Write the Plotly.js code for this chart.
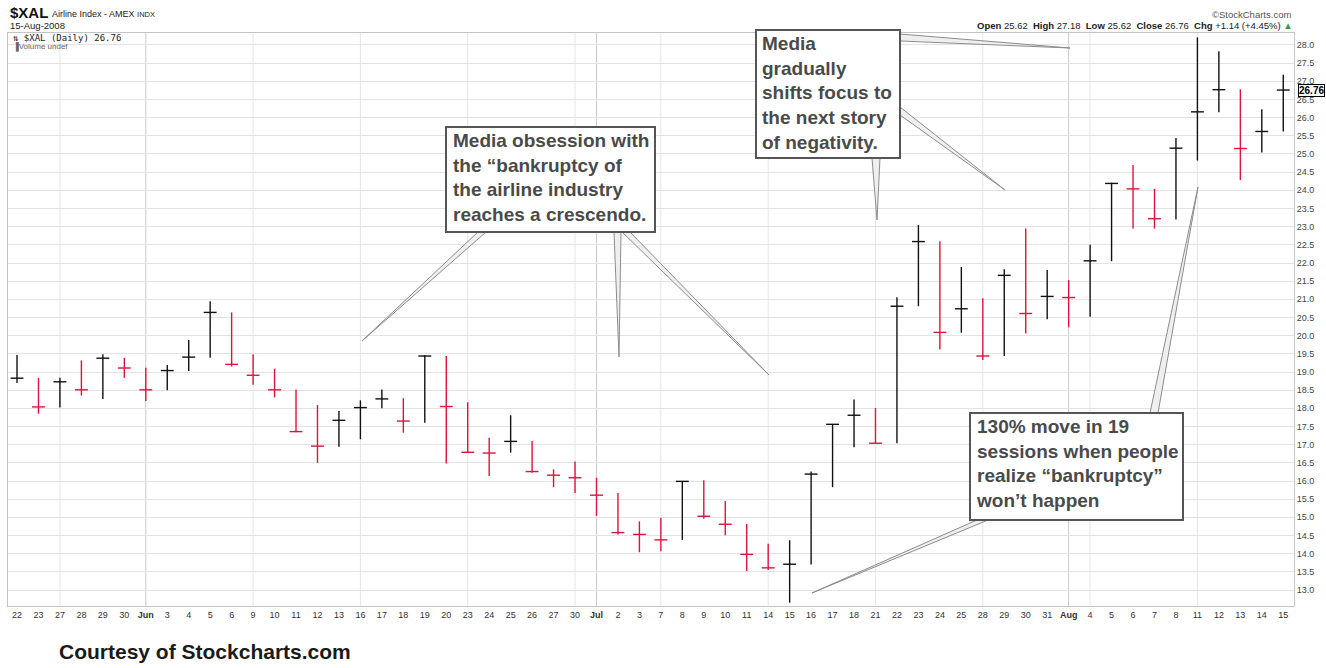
<!DOCTYPE html>
<html><head><meta charset="utf-8">
<script src="https://cdn.plot.ly/plotly-3.0.1.min.js"></script>
<style>html,body{margin:0;padding:0;background:#fff}#chart{width:1326px;height:668px}</style>
</head><body><div id="chart"></div>
<script>
// ---- data ----
const dates = ['2008-05-22','2008-05-23','2008-05-27','2008-05-28','2008-05-29','2008-05-30',
 '2008-06-02','2008-06-03','2008-06-04','2008-06-05','2008-06-06','2008-06-09','2008-06-10','2008-06-11','2008-06-12','2008-06-13',
 '2008-06-16','2008-06-17','2008-06-18','2008-06-19','2008-06-20','2008-06-23','2008-06-24','2008-06-25','2008-06-26','2008-06-27','2008-06-30',
 '2008-07-01','2008-07-02','2008-07-03','2008-07-07','2008-07-08','2008-07-09','2008-07-10','2008-07-11','2008-07-14','2008-07-15','2008-07-16',
 '2008-07-17','2008-07-18','2008-07-21','2008-07-22','2008-07-23','2008-07-24','2008-07-25','2008-07-28','2008-07-29','2008-07-30','2008-07-31',
 '2008-08-01','2008-08-04','2008-08-05','2008-08-06','2008-08-07','2008-08-08','2008-08-11','2008-08-12','2008-08-13','2008-08-14','2008-08-15'];
const tickLabels = ['22','23','27','28','29','30',
 '<b>Jun</b>','3','4','5','6','9','10','11','12','13',
 '16','17','18','19','20','23','24','25','26','27','30',
 '<b>Jul</b>','2','3','7','8','9','10','11','14','15','16',
 '17','18','21','22','23','24','25','28','29','30','31',
 '<b>Aug</b>','4','5','6','7','8','11','12','13','14','15'];
const highs = [19.47,18.84,18.84,19.32,19.49,19.39,
 19.12,19.19,19.88,20.95,20.64,19.49,19.09,18.52,18.09,17.93,
 18.22,18.52,18.28,19.46,19.44,18.17,17.19,17.81,17.10,16.32,16.54,
 16.09,15.67,14.89,14.99,16.00,16.02,15.45,14.82,14.27,14.37,16.26,
 17.57,18.24,18.01,21.06,23.05,22.60,21.89,21.03,21.83,22.95,21.81,
 21.53,22.50,24.21,24.70,24.04,25.44,28.21,27.83,26.78,26.23,27.18];
const lows = [18.70,17.85,18.02,18.35,18.26,18.84,
 18.20,18.50,19.03,19.39,19.15,18.65,18.30,17.34,16.50,16.94,
 17.15,18.00,17.33,17.60,16.48,16.77,16.14,16.78,16.23,15.83,15.67,
 15.04,14.53,14.04,14.07,14.38,14.96,14.51,13.52,13.55,12.65,13.70,
 15.83,16.93,17.03,17.04,20.81,19.62,20.08,19.33,19.44,20.06,20.45,
 20.23,20.52,22.05,22.95,22.95,23.20,24.82,26.15,24.28,25.04,25.62];
const closes = [18.83,18.04,18.73,18.51,19.38,19.11,
 18.51,19.04,19.41,20.64,19.21,18.91,18.51,17.36,16.96,17.67,
 18.02,18.26,17.65,19.44,18.05,16.79,16.77,17.09,16.26,16.16,16.09,
 15.61,14.58,14.53,14.38,15.99,15.03,14.81,13.98,13.61,13.71,16.19,
 17.56,17.81,17.04,20.81,22.59,20.09,20.74,19.44,21.66,20.61,21.08,
 21.05,22.06,24.19,24.04,23.22,25.16,26.16,26.77,25.15,25.62,26.76];
const lastOpen = 25.62;

// ---- geometry helpers (pixel -> paper) ----
const L=8, R=1294, T=33, B=606;
const px = x => (x-L)/(R-L);
const py = y => (B-y)/(B-T);

// ---- bars: vertical low-high, close tick across ----
const up={x:[],y:[]}, dn={x:[],y:[]};
const half=0.3;
closes.forEach((c,i)=>{
  const t = (i===0 || c>closes[i-1]) ? up : dn;
  t.x.push(i,i,null,i-half,i+half,null);
  t.y.push(lows[i],highs[i],null,c,c,null);
});
const traces = [
  {type:'scatter',mode:'lines',x:up.x,y:up.y,line:{color:'#111111',width:1.4},hoverinfo:'skip',showlegend:false,connectgaps:false},
  {type:'scatter',mode:'lines',x:dn.x,y:dn.y,line:{color:'#dc143c',width:1.4},hoverinfo:'skip',showlegend:false,connectgaps:false}
];

// ---- vertical grid at week starts / month starts ----
const shapes=[];
const dObj = dates.map(d=>new Date(d+'T00:00:00Z'));
for(let i=1;i<dObj.length;i++){
  const monthStart = dObj[i].getUTCMonth()!==dObj[i-1].getUTCMonth();
  const weekStart = dObj[i].getUTCDay()<=dObj[i-1].getUTCDay() || (dObj[i]-dObj[i-1])>=7*864e5;
  if(monthStart||weekStart){
    shapes.push({type:'line',xref:'x',yref:'paper',x0:i,x1:i,y0:0,y1:1,layer:'below',
      line:{color: monthStart?'#c9c9c9':'#e6e6e6',width:1}});
  }
}

// ---- callout wedges ----
const wedges = [
  [[478,232],[486,232],[362,341]],
  [[614,232],[621,232],[619,357]],
  [[622,232],[630,232],[769,375]],
  [[900,34],[900,41],[1070,48]],
  [[900,107],[900,115],[1005,190]],
  [[872,158],[880,158],[877,220]],
  [[977,520],[988,520],[812,593]],
  [[1150,413],[1158,413],[1198,187]]
];
wedges.forEach(w=>{
  const p = w.map(q=>px(q[0]).toFixed(5)+','+py(q[1]).toFixed(5));
  shapes.push({type:'path',xref:'paper',yref:'paper',path:'M'+p[0]+' L'+p[2]+' L'+p[1]+' Z',
    fillcolor:'#efefef',line:{color:'#8c8c8c',width:1}});
});
const boxes = [[446,127,655,232],[756,30,900,158],[970,413,1183,520]];
boxes.forEach(b=>{
  shapes.push({type:'rect',xref:'paper',yref:'paper',x0:px(b[0]),x1:px(b[2]),y0:py(b[1]),y1:py(b[3]),
    fillcolor:'#ffffff',line:{color:'#555555',width:2}});
});

const boxFont = {family:'Liberation Sans, Arial, sans-serif',size:19,color:'#4a4a4a',weight:'bold'};
const n = closes.length;
const chg = closes[n-1]-closes[n-2];
const annotations = [
  {xref:'paper',yref:'paper',x:px(451),y:py(128),xanchor:'left',yanchor:'top',align:'left',showarrow:false,font:boxFont,
   text:'Media obsession with<br>the \u201cbankruptcy of<br>the airline industry<br>reaches a crescendo.'},
  {xref:'paper',yref:'paper',x:px(760),y:py(31),xanchor:'left',yanchor:'top',align:'left',showarrow:false,font:boxFont,
   text:'Media<br>gradually<br>shifts focus to<br>the next story<br>of negativity.'},
  {xref:'paper',yref:'paper',x:px(974),y:py(414),xanchor:'left',yanchor:'top',align:'left',showarrow:false,font:boxFont,
   text:'130% move in 19<br>sessions when people<br>realize \u201cbankruptcy\u201d<br>won\u2019t happen'},
  {xref:'paper',yref:'paper',x:0,y:py(13),xanchor:'left',yanchor:'middle',showarrow:false,
   font:{size:15,color:'#111',weight:'bold'},text:'$XAL'},
  {xref:'paper',yref:'paper',x:px(50),y:py(14),xanchor:'left',yanchor:'middle',showarrow:false,
   font:{size:9,color:'#222'},text:'Airline Index - AMEX <span style="font-size:7.5px">INDX</span>'},
  {xref:'paper',yref:'paper',x:0,y:py(26),xanchor:'left',yanchor:'middle',showarrow:false,
   font:{size:9.5,color:'#222'},text:dObj[n-1].getUTCDate()+'-Aug-2008'},
  {xref:'paper',yref:'paper',x:px(11),y:py(38),xanchor:'left',yanchor:'middle',showarrow:false,
   font:{family:'DejaVu Sans Mono, monospace',size:9,color:'#222'},text:'\u21c5 $XAL (Daily) '+closes[n-1].toFixed(2)},
  {xref:'paper',yref:'paper',x:px(11),y:py(47),xanchor:'left',yanchor:'middle',showarrow:false,
   font:{size:8,color:'#666'},text:'\u2590Volume undef'},
  {xref:'paper',yref:'paper',x:px(1293),y:py(14),xanchor:'right',yanchor:'middle',showarrow:false,
   font:{size:9.5,color:'#555'},text:'\u00a9StockCharts.com'},
  {xref:'paper',yref:'paper',x:px(1295),y:py(26),xanchor:'right',yanchor:'middle',showarrow:false,
   font:{size:9.5,color:'#222'},
   text:'<b>Open</b> '+lastOpen.toFixed(2)+'  <b>High</b> '+highs[n-1].toFixed(2)+'  <b>Low</b> '+lows[n-1].toFixed(2)+
        '  <b>Close</b> '+closes[n-1].toFixed(2)+'  <b>Chg</b> +'+chg.toFixed(2)+' (+'+(chg/closes[n-2]*100).toFixed(2)+'%) <span style="color:#2e9e3e">\u25b2</span>'},
  {xref:'paper',yref:'y',x:1,y:closes[n-1],xanchor:'left',yanchor:'middle',xshift:4,showarrow:false,
   font:{size:10,color:'#000',weight:'bold'},text:closes[n-1].toFixed(2),bgcolor:'#fff',bordercolor:'#000',borderwidth:1,borderpad:0},
  {xref:'paper',yref:'paper',x:px(57),y:py(652),xanchor:'left',yanchor:'middle',showarrow:false,
   font:{family:'Liberation Sans, Arial, sans-serif',size:21,color:'#1a1a1a',weight:'bold'},
   text:'Courtesy of Stockcharts.com'}
];

const layout = {
  width:1326,height:668,
  margin:{l:L,r:1326-R,t:T,b:668-B,pad:0},
  paper_bgcolor:'#fff',plot_bgcolor:'#fff',
  font:{family:'Liberation Sans, Arial, sans-serif',color:'#333'},
  showlegend:false,
  xaxis:{range:[-0.42,59.5],tickmode:'array',tickvals:closes.map((c,i)=>i),ticktext:tickLabels,
    showgrid:false,zeroline:false,ticks:'',tickfont:{size:9,color:'#333'},tickangle:0,
    showline:true,mirror:true,linecolor:'#c4c4c4',linewidth:1,fixedrange:true},
  yaxis:{range:[12.56,28.33],side:'right',dtick:0.5,tick0:0,tickformat:'.1f',
    showgrid:true,gridcolor:'#e3e3e3',gridwidth:1,zeroline:false,ticks:'',tickfont:{size:9,color:'#444'},
    showline:true,mirror:true,linecolor:'#c4c4c4',linewidth:1,fixedrange:true},
  shapes:shapes,
  annotations:annotations
};
Plotly.newPlot('chart',traces,layout,{displayModeBar:false,staticPlot:true});
</script>
</body></html>
